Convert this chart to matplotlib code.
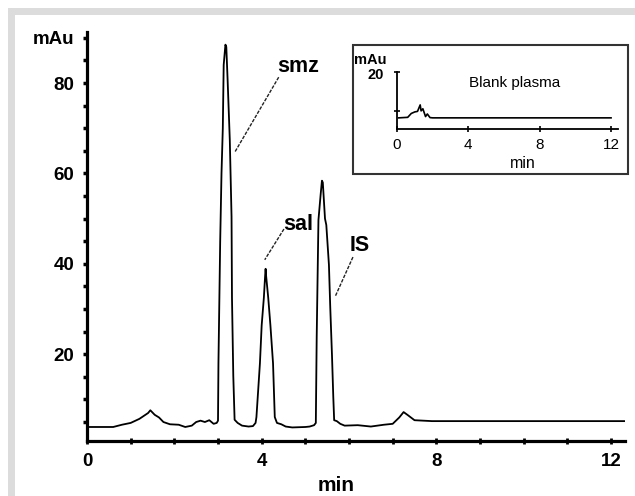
import matplotlib
matplotlib.use("Agg")
import matplotlib.pyplot as plt
from matplotlib.patches import Rectangle

# ---- data ----
time_min = [0.0, 0.6, 0.8, 1.0, 1.2, 1.4, 1.45, 1.55, 1.65, 1.75, 1.9, 2.1, 2.25, 2.4, 2.5,
            2.6, 2.7, 2.8, 2.9, 2.97, 3.0, 3.01, 3.05, 3.08, 3.11, 3.13, 3.17, 3.19, 3.22,
            3.27, 3.31, 3.32, 3.35, 3.38, 3.45, 3.55, 3.7, 3.8, 3.86, 3.88, 3.96, 4.0, 4.05,
            4.08, 4.09, 4.1, 4.15, 4.2, 4.26, 4.3, 4.35, 4.45, 4.55, 4.7, 5.0, 5.1, 5.2,
            5.24, 5.26, 5.3, 5.35, 5.38, 5.4, 5.45, 5.48, 5.54, 5.57, 5.61, 5.64, 5.66,
            5.72, 5.8, 5.9, 6.2, 6.5, 6.8, 7.0, 7.15, 7.25, 7.35, 7.5, 7.7, 7.9, 8.1, 12.32]
signal_mau = [3.9, 3.9, 4.4, 4.8, 5.7, 7.0, 7.6, 6.6, 6.0, 5.0, 4.5, 4.4, 3.9, 4.2, 5.0,
              5.3, 5.0, 5.4, 4.6, 4.8, 5.3, 18.0, 45.0, 60.0, 70.0, 84.0, 88.5, 88.0, 80.7,
              67.4, 50.4, 32.5, 15.2, 5.5, 4.8, 4.2, 4.0, 4.1, 4.8, 6.1, 18.0, 26.4, 32.5,
              37.5, 38.9, 37.5, 32.5, 26.4, 18.0, 6.1, 4.8, 4.5, 4.0, 3.8, 3.9, 4.0, 4.3,
              4.8, 23.8, 49.7, 55.3, 58.4, 58.0, 50.0, 48.6, 39.8, 30.5, 19.8, 10.5, 5.4,
              5.2, 4.6, 4.2, 4.3, 4.0, 4.4, 4.6, 6.0, 7.2, 6.5, 5.4, 5.3, 5.2, 5.2, 5.2]

blank_time = [0.1, 0.6, 0.8, 1.0, 1.15, 1.3, 1.35, 1.45, 1.6, 1.7, 1.85, 2.0, 12.0]
blank_signal = [2.3, 2.5, 4.0, 4.6, 4.8, 7.3, 5.0, 5.8, 2.8, 3.8, 2.4, 2.3, 2.3]

x_tick_labels = ["0", "4", "8", "12"]
y_tick_labels = ["20", "40", "60", "80"]
inset_x_tick_labels = ["0", "4", "8", "12"]

peak_labels = ["smz", "sal", "IS"]
peak_text_pos = [(4.83, 83.7), (4.83, 48.8), (6.25, 44.0)]
peak_line_start = [(4.39, 81.3), (4.51, 47.7), (6.09, 41.5)]
peak_line_end = [(3.39, 64.8), (4.07, 40.9), (5.68, 32.7)]

# ---- figure ----
W, H = 635, 496
fig = plt.figure(figsize=(W / 100, H / 100), dpi=100)
fig.patch.set_facecolor("white")

# grey frame band (top and left)
grey = "#dcdcdc"
fig.add_artist(Rectangle((8 / W, 0), 7 / W, 1 - 8 / H, transform=fig.transFigure,
                         facecolor=grey, edgecolor="none", zorder=0))
fig.add_artist(Rectangle((8 / W, 1 - 15 / H), 1 - 8 / W, 7 / H, transform=fig.transFigure,
                         facecolor=grey, edgecolor="none", zorder=0))

bold = dict(family=["Liberation Sans", "DejaVu Sans"], weight="bold")
narrow = dict(family=["Liberation Sans Narrow", "Liberation Sans", "DejaVu Sans"], weight="bold")

# main axes
left, right, bottom, top = 87, 625, 441, 32
ax = fig.add_axes([left / W, (H - bottom) / H, (right - left) / W, (bottom - top) / H])
ax.plot(time_min, signal_mau, color="black", lw=1.3)
ax.set_xlim(0, 12.32)
ax.set_ylim(0.8, 91.3)
for s in ["top", "right"]:
    ax.spines[s].set_visible(False)
for s in ["left", "bottom"]:
    ax.spines[s].set_linewidth(2.3)

xt = list(range(0, 13))
ax.set_xticks(xt)
ax.set_xticklabels([x_tick_labels[int(v) // 4] if v % 4 == 0 else "" for v in xt], **bold, fontsize=13.5)
yt = list(range(5, 95, 5))
ylabs = []
for v in yt:
    if v == 90:
        ylabs.append("mAu")
    elif v % 20 == 0:
        ylabs.append(y_tick_labels[v // 20 - 1])
    else:
        ylabs.append("")
ax.set_yticks(yt)
ax.set_yticklabels(ylabs, **bold, fontsize=13.5)
ax.tick_params(axis="y", direction="out", length=3, width=2.5, pad=6)
ax.tick_params(axis="x", direction="inout", length=4, width=2, pad=7)
ax.text(5.7, -9.0, "min", ha="center", va="center", fontsize=15, **bold)

for lab, tp, ls, le in zip(peak_labels, peak_text_pos, peak_line_start, peak_line_end):
    ax.text(tp[0], tp[1], lab, ha="center", va="center", fontsize=15.5, **narrow)
    ax.plot([ls[0], le[0]], [ls[1], le[1]], color="#222222", lw=1.0, ls=(0, (2.5, 1)))

# inset frame
fig.add_artist(Rectangle((353 / W, (H - 174) / H), (628 - 353) / W, (174 - 45) / H,
                         transform=fig.transFigure, facecolor="white", edgecolor="#333333",
                         lw=1.5, zorder=2))

il, ir, ib, itop = 397, 618, 129, 72
axi = fig.add_axes([il / W, (H - ib) / H, (ir - il) / W, (ib - itop) / H], zorder=3)
axi.patch.set_alpha(0)
axi.plot(blank_time, blank_signal, color="black", lw=1.2)
axi.set_xlim(0, 12.39)
axi.set_ylim(-2, 20)
for s in ["top", "right"]:
    axi.spines[s].set_visible(False)
for s in ["left", "bottom"]:
    axi.spines[s].set_linewidth(1.3)
axi.set_xticks([0, 4, 8, 12])
axi.set_xticklabels(inset_x_tick_labels, family=["Liberation Sans", "DejaVu Sans"], fontsize=11)
axi.set_yticks([5, 20])
axi.set_yticklabels(["", ""])
axi.tick_params(axis="x", direction="inout", length=5, width=1.2, pad=4)
axi.tick_params(axis="y", direction="inout", length=4, width=1.2, pad=6)
fig.text(370 / W, 1 - 60 / H, "mAu", ha="center", va="center", fontsize=10.5, zorder=4, **bold)
fig.text(376 / W, 1 - 75 / H, "20", ha="center", va="center", fontsize=10.5, zorder=4, **bold)
fig.text(523 / W, 1 - 163 / H, "min", ha="center", va="center", fontsize=11.5, zorder=4,
         family=["Liberation Sans", "DejaVu Sans"])
fig.text(515 / W, 1 - 83 / H, "Blank plasma", ha="center", va="center", fontsize=11,
         zorder=4, family=["Liberation Sans", "DejaVu Sans"])

fig.savefig("out.png", dpi=100, facecolor="white")
